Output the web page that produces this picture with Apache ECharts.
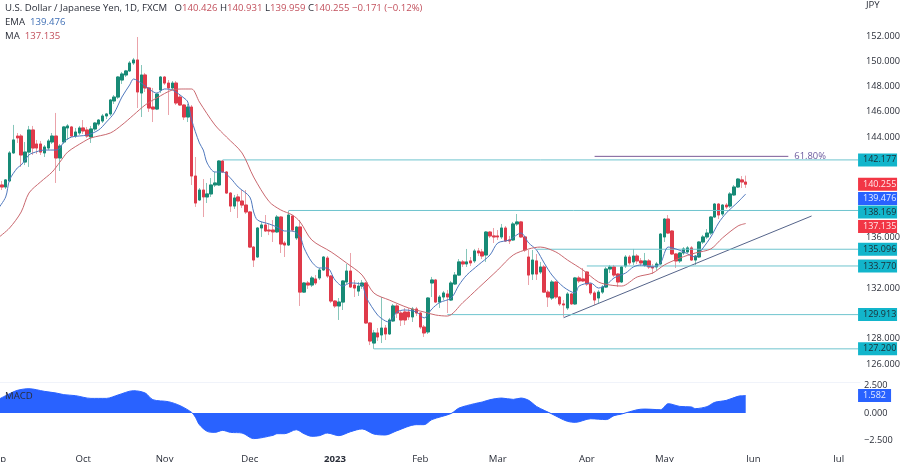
<!DOCTYPE html>
<html><head><meta charset="utf-8">
<style>html,body{margin:0;padding:0;background:#fff}#c{width:900px;height:462px}</style>
<script src="https://cdn.jsdelivr.net/npm/echarts@6/dist/echarts.min.js"></script>
</head><body><div id="c"></div>
<script>
const opens=[138.84,140.19,140.03,140.51,142.73,144.07,144.07,142.01,142.8,144.55,143.44,143.44,142.73,143.12,143.6,144.07,142.33,143.6,144.71,144.79,144.07,144.31,144.71,144.55,143.99,144.63,145.02,145.26,145.66,145.82,146.85,147.16,148.51,148.91,149.23,149.86,150.1,147.48,148.91,147.88,146.37,146.21,147.72,148.75,148.27,147.88,148.27,147.16,146.53,145.58,146.37,140.9,139.0,139.79,139.24,139.48,140.19,140.19,142.09,141.22,139.55,138.52,139.24,138.92,138.6,138.05,135.27,134.48,136.78,137.02,136.62,136.62,136.47,137.65,135.59,135.43,137.73,135.99,136.86,131.7,132.42,132.26,132.74,132.82,133.45,134.4,132.97,130.99,130.6,130.91,132.5,133.37,132.26,131.78,132.18,132.42,129.25,127.66,128.46,128.3,128.85,128.38,129.41,130.6,130.04,130.12,130.12,129.73,130.36,130.04,128.93,128.54,132.42,132.66,130.91,131.31,131.55,131.07,132.34,133.05,134.09,133.93,134.17,134.17,134.96,134.88,134.64,136.46,136.15,136.15,136.07,136.78,135.83,135.83,137.1,137.26,136.07,134.48,133.13,134.17,133.29,133.69,131.7,131.23,132.5,131.31,130.76,130.44,131.55,130.76,132.82,132.74,133.29,132.34,131.63,131.23,131.7,132.1,133.53,133.69,133.13,132.5,133.77,134.48,134.09,134.56,134.17,133.85,134.17,133.69,133.69,133.93,136.07,137.49,136.54,134.72,134.17,134.8,134.88,135.2,134.24,134.48,135.67,136.07,136.38,137.65,138.68,137.89,138.6,138.52,139.4,140.03,140.59,140.426];
const closes=[139.79,140.03,140.59,142.73,143.76,143.92,142.57,142.8,144.55,143.12,143.12,142.8,143.2,143.68,144.07,142.33,143.28,144.79,144.87,144.07,144.39,144.71,144.47,144.07,144.63,145.1,145.34,145.66,145.82,146.93,147.16,148.75,148.99,149.23,149.86,150.1,147.56,148.91,147.88,146.29,146.21,147.4,148.75,148.27,147.88,148.27,146.69,146.53,145.58,146.37,140.9,138.76,139.79,139.24,139.48,140.19,140.35,142.09,141.22,139.55,138.52,139.16,138.92,138.6,138.05,135.27,134.24,136.78,137.02,136.54,136.54,136.47,137.65,135.51,135.43,137.81,136.62,136.86,131.7,132.42,132.26,132.82,132.42,133.45,134.48,132.97,130.99,130.6,130.91,132.58,133.37,132.1,132.02,132.18,132.42,129.25,127.82,128.46,128.14,128.85,128.38,129.49,130.6,130.04,129.49,129.49,129.73,130.36,130.04,128.93,128.46,131.23,132.66,130.91,131.31,131.63,131.31,132.42,133.05,134.09,133.93,134.09,134.01,134.96,134.8,134.56,136.46,136.15,136.07,136.07,136.78,135.75,135.75,137.1,137.26,136.07,135.04,133.05,134.24,133.13,133.69,131.7,131.31,132.5,131.31,130.76,130.68,131.55,130.76,132.82,132.58,132.58,132.34,131.63,131.07,131.7,132.1,133.53,133.69,133.05,132.5,133.69,134.48,134.01,134.56,134.17,134.01,134.17,133.69,133.61,133.93,136.3,137.49,136.38,134.72,134.17,134.8,135.12,135.2,134.24,134.56,135.67,136.07,136.38,137.65,138.68,137.81,138.6,138.45,139.48,140.03,140.66,140.43,140.255];
const highs=[140.19,140.51,140.66,142.88,144.95,144.31,144.23,143.6,144.87,144.87,143.76,143.68,143.36,143.84,144.31,145.9,143.44,144.87,145.02,144.87,144.71,144.87,145.34,144.79,144.87,145.18,145.42,145.82,145.9,147.01,147.32,148.83,149.15,149.31,150.02,150.26,151.92,149.7,149.07,147.96,147.88,147.48,148.83,148.83,148.51,148.43,148.43,147.32,146.61,146.61,146.53,142.41,139.95,140.66,140.35,140.74,141.22,142.17,142.17,141.3,139.63,139.4,139.48,139.79,139.79,138.13,135.35,136.86,137.26,137.81,137.1,137.41,137.81,137.73,135.75,138.13,137.81,136.94,137.41,132.5,132.58,132.98,133.05,133.61,134.56,134.56,133.05,131.07,131.23,132.66,133.93,134.8,132.66,132.5,132.66,132.5,129.33,128.7,128.85,131.31,129.09,129.65,130.76,130.76,130.2,130.44,130.44,130.52,130.52,130.12,129.09,131.31,132.9,132.74,131.47,131.79,131.87,132.58,133.29,134.32,134.24,135.12,134.48,135.12,135.2,135.12,136.54,136.54,136.78,136.62,137.1,136.94,136.15,137.26,137.89,137.34,136.15,135.04,135.04,134.72,134.09,133.85,131.87,132.66,132.58,131.39,131.07,131.7,131.63,132.9,132.98,133.61,133.37,132.42,131.79,131.87,132.26,133.69,133.85,133.85,133.21,133.77,134.64,134.64,135.12,134.72,134.4,134.8,134.32,133.93,134.09,136.38,137.57,137.81,136.62,134.8,134.88,135.27,135.35,135.35,134.64,135.75,136.23,136.7,137.73,138.76,138.76,138.68,138.76,139.63,140.19,140.74,140.9,140.931];
const lows=[138.37,139.79,139.87,140.43,142.65,143.52,141.62,141.77,141.62,142.57,142.65,142.57,142.41,142.96,143.44,140.35,141.3,143.44,143.76,144.0,143.92,144.15,144.23,143.92,143.52,144.47,144.87,145.1,145.42,145.66,146.61,147.01,148.2,148.75,149.15,149.7,146.29,145.58,147.56,145.98,145.18,146.13,147.48,148.12,145.74,147.72,146.53,146.45,145.34,145.18,140.19,138.45,138.92,137.65,138.76,139.24,140.03,140.11,141.14,139.48,138.05,138.29,137.57,138.37,137.89,135.2,133.69,134.4,136.07,136.47,136.22,135.67,136.38,134.8,134.48,135.35,136.47,135.83,130.6,131.63,131.95,132.1,132.26,132.66,133.37,132.82,130.84,130.44,129.49,130.28,132.34,132.02,131.31,131.39,131.95,129.17,127.5,127.2,127.82,127.66,127.9,128.3,129.33,129.65,129.01,129.09,129.49,129.33,129.8,128.77,128.14,128.38,131.31,130.84,130.44,131.07,130.04,130.99,132.26,132.97,133.69,133.69,133.77,134.01,134.56,134.32,134.09,135.99,135.59,135.83,135.91,135.67,135.51,135.75,136.94,135.99,134.88,132.26,132.66,132.66,133.13,131.63,130.52,131.07,131.15,130.6,129.73,130.28,130.68,130.68,132.42,132.5,132.18,131.47,130.68,130.84,131.55,132.02,133.21,132.9,132.1,132.42,133.61,133.85,133.85,133.93,133.77,133.69,133.53,133.13,133.45,133.85,135.67,136.3,134.64,133.61,134.01,134.64,134.8,134.17,133.85,134.4,135.51,135.91,136.22,137.57,137.49,137.73,138.29,138.37,139.32,139.95,139.95,139.959];

const emaBars=[0,2,3,5,6,8,9,12,15,16,17,19,23,26,28,30,32,34,35,37,38,41,43,45,48,49,50,52,53,54,56,58,60,62,65,66,67,70,72,74,76,78,79,81,83,85,87,89,91,94,95,98,100,101,103,105,108,110,112,114,117,119,121,124,127,129,132,135,137,139,141,143,146,149,150,153,155,157,159,162,164,166,169,171,173,175,177,180,182,184,186,188,191,193];
const emaValues=[138.29,139.24,140.59,141.54,141.77,142.57,142.73,142.96,142.96,143.12,143.6,143.99,144.15,144.55,145.18,145.9,147.16,148.12,148.59,148.27,148.04,147.48,147.8,147.72,147.09,146.77,145.34,143.52,142.96,141.93,141.22,141.22,140.74,140.03,139.24,138.05,137.41,137.1,136.86,136.54,136.54,136.07,135.2,134.09,133.61,133.61,132.66,132.18,132.42,132.26,131.31,129.88,129.41,129.33,130.12,130.28,130.12,129.65,130.36,130.87,131.23,132.26,133.05,133.85,134.64,135.59,135.83,136.38,135.59,135.04,134.0,133.05,132.1,131.63,132.18,132.42,132.02,132.26,132.82,133.21,133.69,133.85,133.69,134.0,135.27,135.12,134.88,134.48,135.2,136.07,137.18,137.97,138.84,139.476];
const maBars=[0,3,6,8,11,14,16,18,22,24,29,32,35,38,41,45,48,50,52,56,59,63,66,70,73,76,78,81,86,90,94,97,101,106,110,113,116,120,124,129,133,137,140,144,147,151,155,158,161,165,169,172,176,180,184,187,191,193];
const maValues=[135.99,136.78,138.05,139.55,140.43,141.22,142.01,142.8,143.6,143.92,144.31,144.95,145.74,146.53,147.09,147.72,147.8,147.8,146.77,144.95,143.99,142.73,140.82,138.87,138.21,137.81,137.26,135.83,134.88,134.0,133.05,131.63,131.07,130.44,130.12,129.88,129.8,130.87,132.02,133.45,134.64,135.12,135.27,134.88,134.24,133.45,132.5,132.26,132.18,132.9,133.21,133.85,134.4,134.8,135.12,135.99,136.94,137.135];
const macdBars=[0,2,5,8,12,15,17,20,24,28,31,35,38,40,44,47,50,51,52,54,56,58,60,63,66,71,72,74,77,79,81,83,85,88,91,94,97,100,103,108,110,112,117,119,123,125,127,130,133,135,137,139,141,143,145,147,149,153,157,159,161,165,167,171,173,176,179,180,183,185,188,191,193];
const macdValues=[1.21,1.58,2.06,2.21,1.97,1.82,1.67,1.58,1.33,1.33,1.64,2.03,1.82,1.21,1.03,0.67,0.05,-0.4,-1.06,-1.67,-1.76,-1.58,-1.76,-1.82,-2.33,-2.03,-1.88,-1.88,-1.52,-1.88,-2.12,-2.06,-1.82,-2.06,-1.7,-1.45,-1.91,-2.0,-1.61,-1.06,-1.06,-0.6,-0.04,0.45,0.85,1.0,1.21,1.36,1.24,1.36,1.15,0.6,0.24,-0.09,-0.45,-0.76,-0.85,-0.52,-0.6,-0.24,-0.09,0.3,0.36,0.3,0.85,0.6,0.55,0.4,0.58,0.97,1.15,1.52,1.582];

const levelValues=[142.177,138.169,135.096,133.770,129.913,127.200];
const levelStartBars=[58,75,139,152,116,97];
const levelTagNudge=[0,1.5,0,0,0,0];
const trendBars=[146,210];
const trendValues=[129.67,137.73];
const fibBars=[154,204];
const fibValues=[142.46,142.46];
const priceTicks=[152,150,148,146,144,136,132,128,126];
const macdTicks=[2.5,0,-2.5];
const monthTicks={'2022-09-01':'Sep','2022-10-03':'Oct','2022-11-01':'Nov','2022-12-01':'Dec','2023-01-02':'2023','2023-02-01':'Feb','2023-03-01':'Mar','2023-04-03':'Apr','2023-05-01':'May','2023-06-01':'Jun','2023-07-03':'Jul'};

const categories=[];
for(let t=Date.UTC(2022,8,1);categories.length<223;t+=864e5){
  const d=new Date(t);
  if(d.getUTCDay()%6!==0)categories.push(d.toISOString().slice(0,10));
}
const FONT='"Open Sans"';
const TXT='#2a2e39';
const UP='#178a76',DOWN='#df3a4a',UPW='#86c6ba',DOWNW='#eaa3aa';
const pairs=(bars,vals)=>bars.map((b,i)=>[categories[b],vals[i]]);
const lastCat=categories[222];

const wickData=opens.map((o,i)=>[o,closes[i],lows[i],highs[i]]);
const bodyData=opens.map((o,i)=>[o,closes[i],Math.min(o,closes[i]),Math.max(o,closes[i])]);

function tag(value,text,bg,fg,nudge,w){
  return {value:[lastCat,value],label:{show:true,position:'right',distance:0,offset:[0,nudge||0],formatter:text,opacity:1,
    backgroundColor:bg,color:fg,fontFamily:FONT,fontSize:9,width:w||34,height:13,lineHeight:13,padding:[0,0,0,5],align:'left',verticalAlign:'middle'}};
}
const plainLine=(name,bars,vals,color,extra)=>Object.assign({name,type:'line',xAxisIndex:0,yAxisIndex:0,data:pairs(bars,vals),
  showSymbol:false,symbol:'none',silent:true,lineStyle:{color,width:1},animation:false,z:3},extra||{});

const series=[
 {name:'wick',type:'candlestick',xAxisIndex:0,yAxisIndex:0,data:wickData,barWidth:3,animation:false,z:2,
  itemStyle:{color:UPW,color0:DOWNW,borderColor:UPW,borderColor0:DOWNW,borderWidth:1}},
 {name:'body',type:'candlestick',xAxisIndex:0,yAxisIndex:0,data:bodyData,barWidth:3,animation:false,z:2.5,
  itemStyle:{color:UP,color0:DOWN,borderColor:UP,borderColor0:DOWN,borderWidth:1}},
 plainLine('EMA',emaBars,emaValues,'#4f78bd',{z:4,smooth:0.3}),
 plainLine('MA',maBars,maValues,'#c9686f',{z:4,smooth:0.3}),
 plainLine('trend',trendBars,trendValues,'#55648a'),
 plainLine('fib',fibBars,fibValues,'#7a5c98',{endLabel:{show:true,formatter:'61.80%',color:'#6b5a9e',fontFamily:FONT,fontSize:9.4,distance:6}}),
];
levelValues.forEach((v,i)=>{
  series.push(plainLine('level'+i,[levelStartBars[i],222],[v,v],'#6fc4ce'));
});
series.push({name:'tags',type:'scatter',xAxisIndex:0,yAxisIndex:0,symbolSize:0,silent:true,animation:false,z:10,itemStyle:{opacity:1},
  data:[
   ...levelValues.map((v,i)=>tag(v,v.toFixed(3),'#12b5cb','#1d2b33',levelTagNudge[i])),
   tag(closes[193],closes[193].toFixed(3),'#f23645','#ffe8ea',0),
   tag(emaValues[emaValues.length-1],emaValues[emaValues.length-1].toFixed(3),'#2962ff','#e6edff',4.5),
   tag(maValues[maValues.length-1],maValues[maValues.length-1].toFixed(3),'#f23645','#ffe8ea',3),
  ]});
series.push({name:'MACD',type:'line',xAxisIndex:1,yAxisIndex:1,data:pairs(macdBars,macdValues),showSymbol:false,symbol:'none',silent:true,animation:false,smooth:0.3,
  lineStyle:{color:'#2962ff',width:1},areaStyle:{color:'#2962ff',opacity:1,origin:'auto'},z:3});
series.push({name:'macdTag',type:'scatter',xAxisIndex:1,yAxisIndex:1,symbolSize:0,silent:true,animation:false,z:10,itemStyle:{opacity:1},
  data:[tag(macdValues[macdValues.length-1],macdValues[macdValues.length-1].toFixed(3),'#2962ff','#e6edff',0,28)]});

const red='#c2505c';
const FS=9.6;
const head=(left,top,text,rich)=>({left,top,padding:0,text,textStyle:{fontFamily:FONT,fontSize:FS,fontWeight:'normal',color:TXT,rich:rich||{}}});
const chart=echarts.init(document.getElementById('c'),null,{renderer:'canvas'});
chart.setOption({
 animation:false,backgroundColor:'#fff',
 title:[
  head(5,3,'U.S. Dollar / Japanese Yen, 1D, FXCM   {k|O}{v|140.426} {k|H}{v|140.931} {k|L}{v|139.959} {k|C}{v|140.255} {v|−0.171 (−0.12%)}',
    {k:{color:TXT,fontFamily:FONT,fontSize:FS},v:{color:red,fontFamily:FONT,fontSize:FS}}),
  head(5,17,'EMA  {v|139.476}',{v:{color:'#3f6fb5',fontFamily:FONT,fontSize:FS}}),
  head(5,31,'MA  {v|137.135}',{v:{color:red,fontFamily:FONT,fontSize:FS}}),
  head(866,0,'JPY'),
  head(5,391,'MACD'),
 ],
 grid:[{outerBoundsMode:'none',left:-4,width:864,top:0,height:382},{outerBoundsMode:'none',left:-4,width:864,top:383,height:62}],
 xAxis:[
  {type:'category',gridIndex:0,data:categories,boundaryGap:true,axisLabel:{show:false},axisTick:{show:false},
   axisLine:{show:true,lineStyle:{color:'#f0f3fa',width:1}},splitLine:{show:false}},
  {type:'category',gridIndex:1,data:categories,boundaryGap:true,axisTick:{show:false},axisLine:{show:false},splitLine:{show:false},
   axisLabel:{show:true,interval:(i,v)=>v in monthTicks,formatter:v=>{const t=monthTicks[v]||'';return t==='2023'?'{b|2023}':t;},
    align:'center',color:TXT,fontFamily:FONT,fontSize:FS,margin:9,hideOverlap:false,rich:{b:{fontWeight:'bold',color:TXT,fontFamily:FONT,fontSize:FS}}}},
 ],
 yAxis:[
  {type:'value',gridIndex:0,position:'right',min:124.572,max:154.854,axisLine:{show:false},axisTick:{show:false},splitLine:{show:false},
   axisLabel:{show:true,customValues:priceTicks,formatter:v=>v.toFixed(3),color:TXT,fontFamily:FONT,fontSize:9.2,margin:6,align:'left'}},
  {type:'value',gridIndex:1,position:'right',min:-2.91,max:2.73,axisLine:{show:false},axisTick:{show:false},splitLine:{show:false},
   axisLabel:{show:true,customValues:macdTicks,formatter:v=>(v<0?'−':'')+Math.abs(v).toFixed(3),color:TXT,fontFamily:FONT,fontSize:9.2,margin:4,align:'left'}},
 ],
 series
});
</script></body></html>
